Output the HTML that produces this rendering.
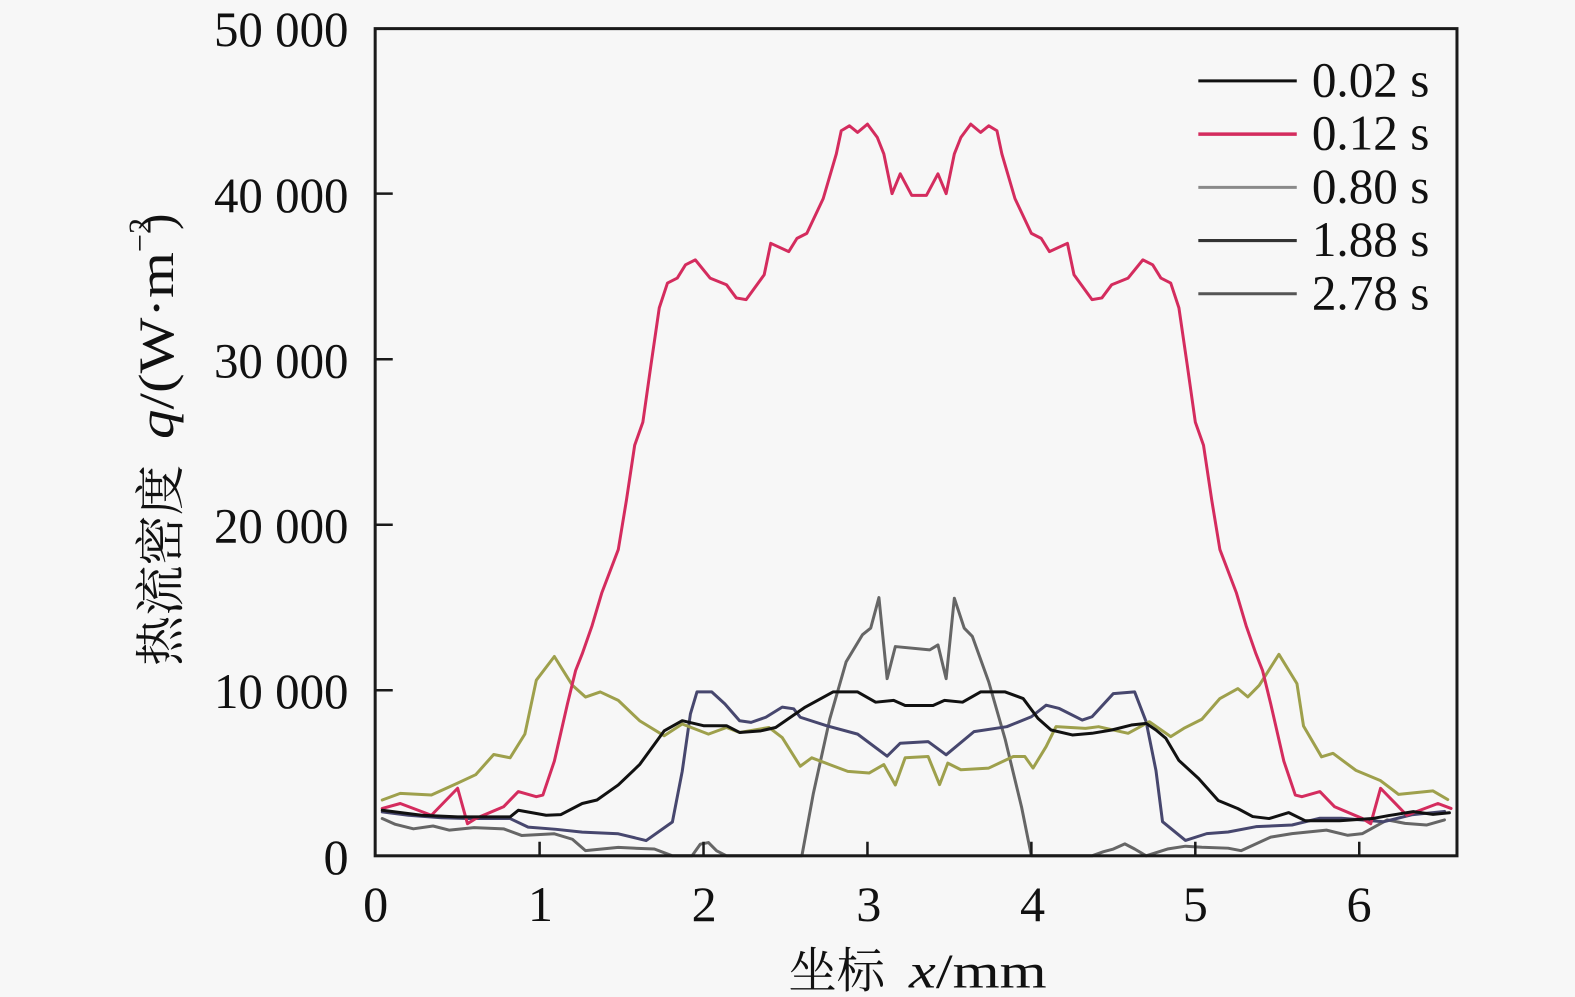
<!DOCTYPE html>
<html>
<head>
<meta charset="utf-8">
<style>
  html, body { margin: 0; padding: 0; background: #f7f7f7; }
  svg { display: block; }
  .t { font-family: "Liberation Serif", "Noto Serif CJK SC", serif; fill: #111; }
</style>
</head>
<body>
<svg width="1575" height="997" viewBox="0 0 1568 992.57" preserveAspectRatio="none" xmlns="http://www.w3.org/2000/svg">
  <rect x="0" y="0" width="1575" height="997" fill="#f7f7f7"/>

  <!-- data curves: x in mm, y in thousands W/m2 -->
  <g transform="translate(374,852) scale(163.2,-16.48)" fill="none" stroke-linejoin="round" stroke-linecap="round">
    <!-- 2.78 s -->
    <polyline vector-effect="non-scaling-stroke" stroke="#666666" stroke-width="3" points="
      0.04,2.25 0.12,1.9 0.23,1.63 0.35,1.8 0.45,1.55 0.60,1.7 0.78,1.63 0.89,1.23 1.09,1.33 1.20,1.0 1.28,0.31 1.48,0.51 1.60,0.45 1.70,0.41 1.81,0 1.93,0 1.98,0.7 2.03,0.8 2.08,0.3 2.14,0 2.60,0
      2.67,3.77 2.77,8.26 2.87,11.72 2.97,13.36 3.02,13.76 3.07,15.6 3.12,10.7 3.17,12.64 3.38,12.44 3.43,12.74 3.48,10.7 3.53,15.56 3.59,13.76 3.64,13.25 3.74,10.5 3.84,7.04 3.94,2.95 4.00,0
      4.37,0 4.44,0.25 4.50,0.41 4.57,0.72 4.63,0.41 4.70,0 4.83,0.41 4.94,0.58 5.04,0.52 5.20,0.46 5.28,0.31 5.46,1.13 5.59,1.34 5.80,1.55 5.93,1.24 6.02,1.34 6.17,2.17 6.28,1.96 6.41,1.86 6.52,2.17"/>
    <!-- 1.88 s -->
    <polyline vector-effect="non-scaling-stroke" stroke="#47476e" stroke-width="3" points="
      0.04,2.65 0.20,2.45 0.40,2.3 0.56,2.25 0.82,2.25 0.93,1.73 1.10,1.6 1.26,1.43 1.48,1.33 1.65,0.92 1.81,2.04 1.87,5.10 1.92,8.57 1.96,9.90 2.05,9.90 2.13,9.18 2.22,8.16 2.29,8.06 2.38,8.37 2.48,8.98 2.55,8.88 2.59,8.37 2.75,7.86 2.94,7.35 3.12,6.02 3.20,6.8 3.37,6.9 3.48,6.1 3.65,7.5 3.85,7.8 4.00,8.4 4.09,9.1 4.17,8.9 4.31,8.2 4.37,8.4 4.50,9.8 4.63,9.9 4.70,8.1 4.76,5.15 4.80,2.06 4.94,0.93 5.07,1.34 5.20,1.44 5.37,1.76 5.59,1.86 5.76,2.27 5.89,2.27 6.15,2.06 6.32,2.48 6.52,2.68"/>
    <!-- 0.80 s -->
    <polyline vector-effect="non-scaling-stroke" stroke="#9ea04c" stroke-width="3" points="
      0.04,3.37 0.15,3.77 0.34,3.67 0.50,4.39 0.61,4.90 0.72,6.12 0.82,5.92 0.91,7.35 0.98,10.61 1.09,12.04 1.20,10.30 1.28,9.59 1.37,9.90 1.48,9.39 1.61,8.16 1.76,7.25 1.87,7.96 2.03,7.35 2.14,7.75 2.22,7.45 2.40,7.75 2.48,7.14 2.59,5.41 2.66,5.92 2.77,5.51 2.88,5.10 3.01,5.00 3.10,5.51 3.17,4.28 3.23,5.92
      3.37,6.0 3.44,4.3 3.49,5.6 3.57,5.2 3.74,5.3 3.89,6.0 3.96,6.0 4.01,5.3 4.09,6.6 4.15,7.8 4.33,7.7 4.41,7.8 4.59,7.4 4.72,8.1 4.85,7.2 4.93,7.7 5.04,8.25 5.15,9.5 5.26,10.1 5.32,9.6 5.39,10.3 5.51,12.17 5.62,10.4 5.66,7.84 5.77,5.98 5.84,6.19 5.98,5.16 6.13,4.54 6.24,3.71 6.45,3.92 6.54,3.40"/>
    <!-- 0.12 s -->
    <polyline vector-effect="non-scaling-stroke" stroke="#d42c5e" stroke-width="3" points="
      0.04,2.86 0.15,3.16 0.34,2.45 0.50,4.08 0.56,1.94 0.61,2.25 0.78,2.96 0.87,3.88 0.98,3.57 1.02,3.67 1.09,5.72 1.17,9.18 1.22,11.2 1.26,12.2 1.32,13.9 1.38,15.9 1.48,18.5 1.53,21.5 1.58,24.8 1.63,26.2 1.68,29.7 1.73,33.1 1.78,34.6 1.84,34.9 1.89,35.7 1.95,36.0 2.04,34.9 2.14,34.5 2.20,33.7 2.26,33.6 2.37,35.1 2.41,37.0 2.52,36.5 2.57,37.3 2.63,37.6 2.73,39.7 2.81,42.4 2.84,43.8 2.89,44.1 2.94,43.7 3.00,44.2 3.06,43.4 3.10,42.4 3.15,40.0 3.20,41.2 3.27,39.9
      3.36,39.9 3.43,41.2 3.48,40.0 3.53,42.4 3.57,43.4 3.63,44.2 3.69,43.7 3.74,44.1 3.79,43.8 3.82,42.4 3.90,39.7 4.00,37.6 4.06,37.3 4.11,36.5 4.22,37.0 4.26,35.1 4.37,33.6 4.43,33.7 4.49,34.5 4.59,34.9 4.68,36.0 4.74,35.7 4.79,34.9 4.85,34.6 4.90,33.1 4.95,29.7 5.00,26.2 5.05,24.8 5.10,21.5 5.15,18.5 5.25,15.9 5.31,13.9 5.37,12.2 5.41,11.2 5.46,9.18 5.54,5.72 5.61,3.67 5.65,3.57 5.76,3.88 5.85,2.96 6.02,2.25 6.07,1.94 6.13,4.08 6.29,2.45 6.48,3.16 6.56,2.86"/>
    <!-- 0.02 s -->
    <polyline vector-effect="non-scaling-stroke" stroke="#111111" stroke-width="3" points="
      0.04,2.75 0.28,2.45 0.50,2.35 0.82,2.35 0.87,2.75 1.04,2.45 1.13,2.49 1.26,3.16 1.35,3.37 1.48,4.28 1.61,5.51 1.70,6.73 1.76,7.55 1.87,8.16 2.00,7.86 2.14,7.86 2.22,7.45 2.35,7.55 2.44,7.75 2.62,8.98 2.79,9.90 2.94,9.90 3.05,9.28 3.16,9.39 3.23,9.08
      3.40,9.08 3.47,9.39 3.58,9.28 3.69,9.90 3.84,9.90 3.95,9.5 4.04,8.3 4.12,7.6 4.25,7.3 4.37,7.4 4.49,7.6 4.61,7.9 4.70,8.0 4.76,7.6 4.82,7.1 4.90,5.76 5.02,4.67 5.14,3.34 5.26,2.85 5.35,2.37 5.45,2.25 5.57,2.61 5.67,2.12 5.88,2.12 6.08,2.25 6.18,2.43 6.33,2.67 6.45,2.5 6.55,2.6"/>
  </g>

  <!-- frame -->
  <rect x="373.5" y="28.5" width="1077" height="823.5" fill="none" stroke="#1a1a1a" stroke-width="3"/>

  <!-- ticks -->
  <g stroke="#1a1a1a" stroke-width="2.5">
    <line x1="537.2" y1="852" x2="537.2" y2="838"/>
    <line x1="700.4" y1="852" x2="700.4" y2="838"/>
    <line x1="863.6" y1="852" x2="863.6" y2="838"/>
    <line x1="1026.8" y1="852" x2="1026.8" y2="838"/>
    <line x1="1190" y1="852" x2="1190" y2="838"/>
    <line x1="1353.2" y1="852" x2="1353.2" y2="838"/>
    <line x1="373" y1="192.8" x2="391" y2="192.8"/>
    <line x1="373" y1="357.6" x2="391" y2="357.6"/>
    <line x1="373" y1="522.4" x2="391" y2="522.4"/>
    <line x1="373" y1="687.2" x2="391" y2="687.2"/>
  </g>

  <!-- y tick labels -->
  <g class="t" font-size="50" text-anchor="end">
    <text x="347" y="46" textLength="134" lengthAdjust="spacingAndGlyphs">50 000</text>
    <text x="347" y="211" textLength="134" lengthAdjust="spacingAndGlyphs">40 000</text>
    <text x="347" y="376" textLength="134" lengthAdjust="spacingAndGlyphs">30 000</text>
    <text x="347" y="540" textLength="134" lengthAdjust="spacingAndGlyphs">20 000</text>
    <text x="347" y="705" textLength="134" lengthAdjust="spacingAndGlyphs">10 000</text>
    <text x="347" y="870">0</text>
  </g>

  <!-- x tick labels -->
  <g class="t" font-size="50" text-anchor="middle">
    <text x="374" y="917">0</text>
    <text x="538" y="917">1</text>
    <text x="701" y="917">2</text>
    <text x="865" y="917">3</text>
    <text x="1028" y="917">4</text>
    <text x="1190" y="917">5</text>
    <text x="1353" y="917">6</text>
  </g>

  <!-- x axis title -->
  <text class="t" x="785" y="983" font-size="48">坐标</text>
  <text class="t" x="905" y="983" font-size="48" textLength="137" lengthAdjust="spacingAndGlyphs"><tspan font-style="italic">x</tspan>/mm</text>

  <!-- y axis title (rotated) -->
  <g transform="translate(177,663) rotate(-90)">
    <text class="t" x="0" y="0" font-size="50">热流密度</text>
    <text class="t" x="226" y="-5" font-size="49" textLength="186" lengthAdjust="spacingAndGlyphs"><tspan font-style="italic">q</tspan>/(W·m</text>
    <text class="t" x="412" y="-27" font-size="32">−2</text>
    <text class="t" x="434" y="-5" font-size="49">)</text>
  </g>

  <!-- legend -->
  <g stroke-width="3">
    <line x1="1193" y1="80.5" x2="1291" y2="80.5" stroke="#111111"/>
    <line x1="1193" y1="133.5" x2="1291" y2="133.5" stroke="#d42c5e" stroke-width="3.5"/>
    <line x1="1193" y1="186.5" x2="1291" y2="186.5" stroke="#8a8a8a"/>
    <line x1="1193" y1="239.5" x2="1291" y2="239.5" stroke="#333333"/>
    <line x1="1193" y1="292.5" x2="1291" y2="292.5" stroke="#555555"/>
  </g>
  <g class="t" font-size="49">
    <text x="1306" y="96" textLength="117" lengthAdjust="spacingAndGlyphs">0.02 s</text>
    <text x="1306" y="149" textLength="117" lengthAdjust="spacingAndGlyphs">0.12 s</text>
    <text x="1306" y="202" textLength="117" lengthAdjust="spacingAndGlyphs">0.80 s</text>
    <text x="1306" y="255" textLength="117" lengthAdjust="spacingAndGlyphs">1.88 s</text>
    <text x="1306" y="308" textLength="117" lengthAdjust="spacingAndGlyphs">2.78 s</text>
  </g>
</svg>
</body>
</html>
